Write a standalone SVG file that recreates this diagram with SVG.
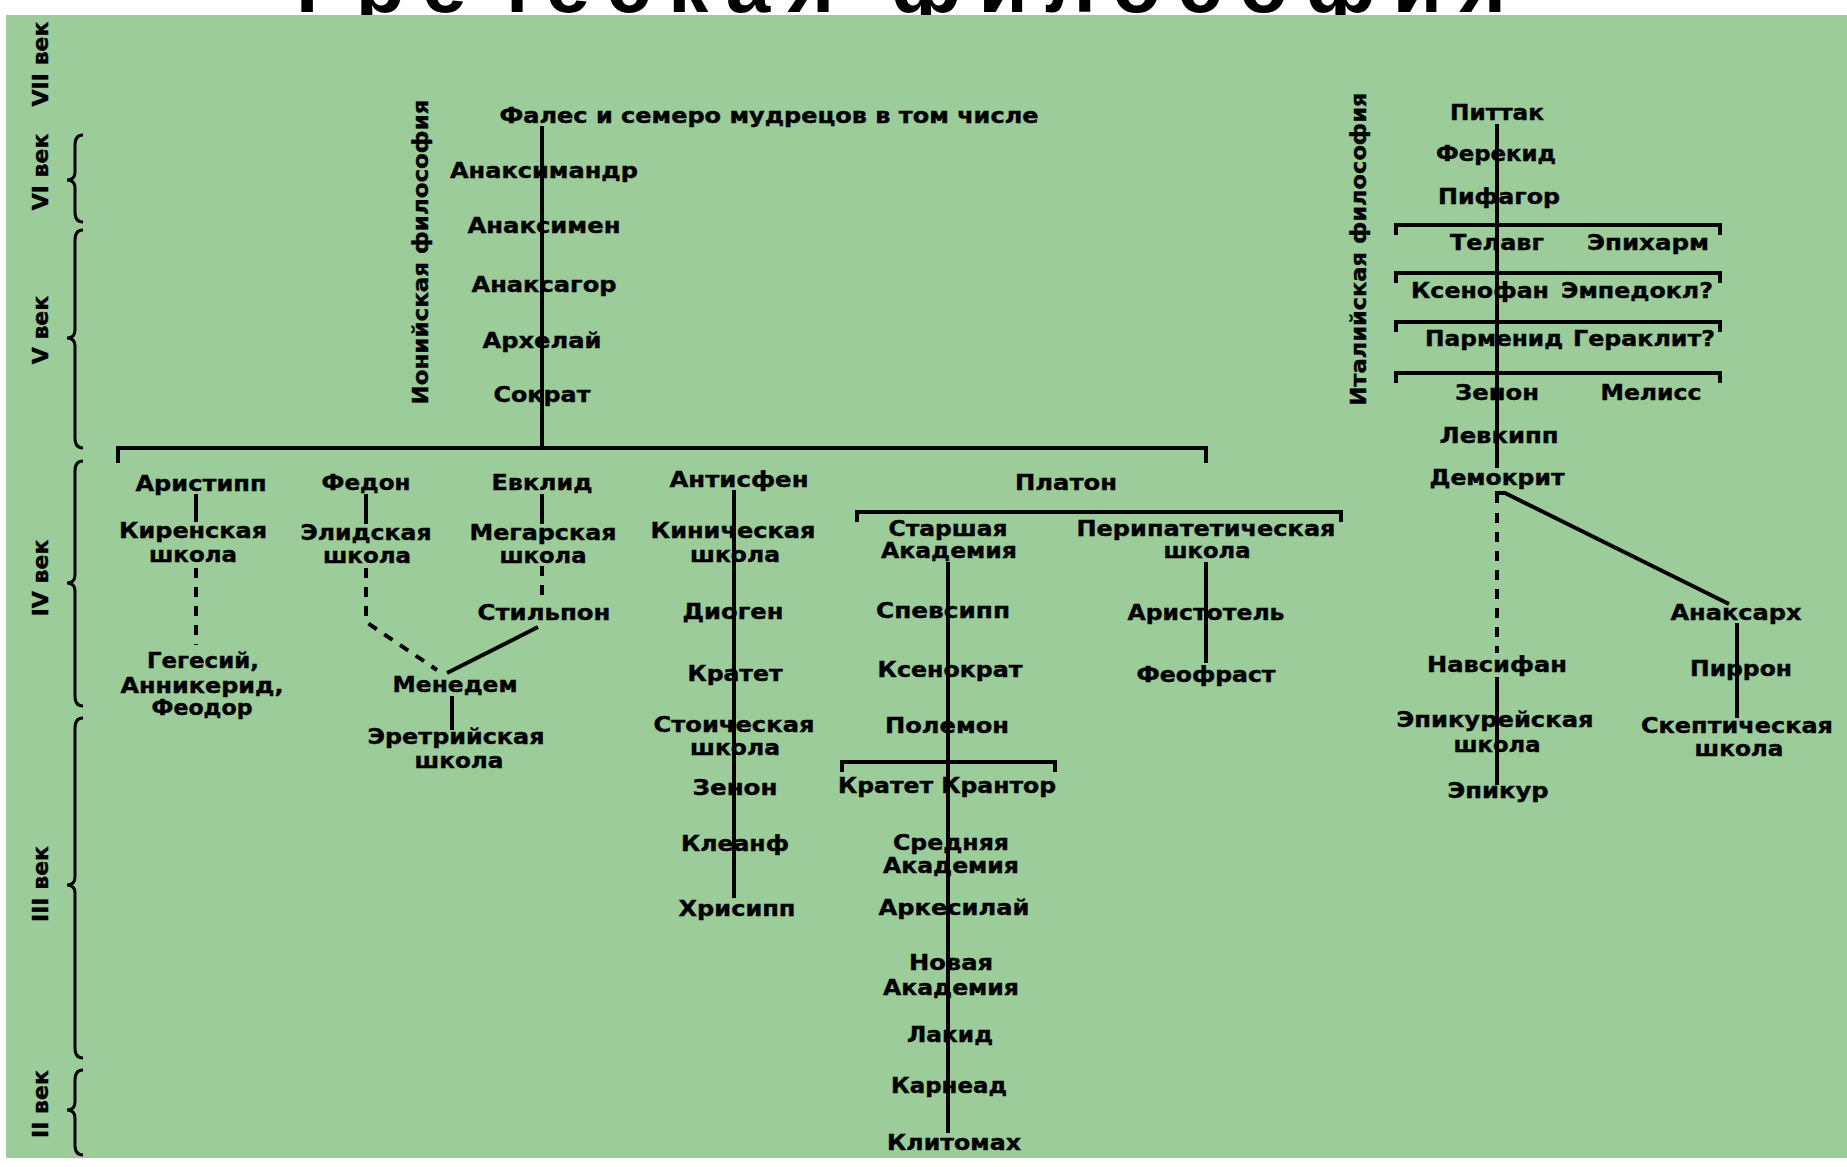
<svg xmlns="http://www.w3.org/2000/svg" width="1847" height="1167" viewBox="0 0 1847 1167">
<style>
text{font-family:"DejaVu Sans",Verdana,sans-serif;font-weight:bold;font-size:22px;fill:#000;stroke:#000;stroke-width:0.4;text-anchor:middle}
.nar{font-family:"DejaVu Sans Condensed","DejaVu Sans",sans-serif;font-stretch:condensed}
.cen{font-size:22px}
.title{font-family:"Liberation Sans",Arial,sans-serif;font-size:80px;stroke:none}
.ln{stroke:#000;stroke-width:4;fill:none}
.dash{stroke-dasharray:10 9}
.br{stroke:#000;stroke-width:3;fill:none}
</style>
<rect x="0" y="0" width="1847" height="1167" fill="#ffffff"/>
<text class="title" x="901" y="12" textLength="1210" lengthAdjust="spacing">Греческая философия</text>
<rect x="6" y="15" width="1841" height="1143" fill="#9ccc9a"/>

<g id="centuries">
<path class="br" d="M83 135 Q75 135 75 145 L75 172 Q75 180 67 180 Q75 180 75 188 L75 212 Q75 222 83 222"/>
<path class="br" d="M83 230 Q75 230 75 240 L75 330 Q75 338 67 338 Q75 338 75 346 L75 438 Q75 448 83 448"/>
<path class="br" d="M83 461 Q75 461 75 471 L75 575 Q75 583 67 583 Q75 583 75 591 L75 696 Q75 706 83 706"/>
<path class="br" d="M83 718 Q75 718 75 728 L75 877 Q75 885 67 885 Q75 885 75 893 L75 1048 Q75 1058 83 1058"/>
<path class="br" d="M83 1070 Q75 1070 75 1080 L75 1102 Q75 1110 67 1110 Q75 1110 75 1118 L75 1145 Q75 1155 83 1155"/>
<text class="cen" transform="translate(48,64) rotate(-90)">VII век</text>
<text class="cen" transform="translate(48,172) rotate(-90)">VI век</text>
<text class="cen" transform="translate(48,330) rotate(-90)">V век</text>
<text class="cen" transform="translate(48,578) rotate(-90)">IV век</text>
<text class="cen" transform="translate(48,884) rotate(-90)">III век</text>
<text class="cen" transform="translate(48,1104) rotate(-90)">II век</text>
</g>

<g id="connectors">
<path class="ln" d="M542 126 V448"/>
<path class="ln" d="M118 463 V448 H1206 V463"/>
<path class="ln" d="M196 494 V522"/>
<path class="ln dash" d="M196 568 V645"/>
<path class="ln" d="M366 494 V524"/>
<path class="ln dash" d="M366 568 V622 L437 670"/>
<path class="ln" d="M542 494 V524"/>
<path class="ln dash" d="M542 566 V602"/>
<path class="ln" d="M538 627 L447 673"/>
<path class="ln" d="M452 696 V730"/>
<path class="ln" d="M734 490 V898"/>
<path class="ln" d="M857 522 V512 H1341 V522"/>
<path class="ln" d="M948 562 V1133"/>
<path class="ln" d="M842 772 V762 H1055 V772"/>
<path class="ln" d="M1206 562 V663"/>
<path class="ln" d="M1497 124 V468"/>
<path class="ln" d="M1396 235 V225 H1720 V235"/>
<path class="ln" d="M1396 283 V273 H1720 V283"/>
<path class="ln" d="M1396 332 V322 H1720 V332"/>
<path class="ln" d="M1396 383 V373 H1720 V383"/>
<path class="ln" d="M1497 503 V493 H1505 L1729 604"/>
<path class="ln dash" d="M1497 513 V653"/>
<path class="ln" d="M1497 677 V785"/>
<path class="ln" d="M1737 623 V718"/>
</g>

<g id="group-labels">
<text transform="translate(428,252) rotate(-90)" textLength="305" lengthAdjust="spacingAndGlyphs">Ионийская философия</text>
<text transform="translate(1366,249) rotate(-90)" textLength="313" lengthAdjust="spacingAndGlyphs">Италийская философия</text>
</g>

<g id="n-thales"><text class="nar" x="769" y="123" textLength="539" lengthAdjust="spacingAndGlyphs">Фалес и семеро мудрецов в том числе</text></g>
<g id="n-anaximander"><text x="544" y="178" textLength="188" lengthAdjust="spacingAndGlyphs">Анаксимандр</text></g>
<g id="n-anaximenes"><text x="544" y="233" textLength="153" lengthAdjust="spacingAndGlyphs">Анаксимен</text></g>
<g id="n-anaxagoras"><text x="544" y="292" textLength="145" lengthAdjust="spacingAndGlyphs">Анаксагор</text></g>
<g id="n-archelaus"><text x="542" y="348" textLength="119" lengthAdjust="spacingAndGlyphs">Архелай</text></g>
<g id="n-socrates"><text x="542" y="402" textLength="97" lengthAdjust="spacingAndGlyphs">Сократ</text></g>

<g id="n-aristippus"><text x="201" y="491" textLength="131" lengthAdjust="spacingAndGlyphs">Аристипп</text></g>
<g id="n-cyrenaic"><text x="193" y="538" textLength="148" lengthAdjust="spacingAndGlyphs">Киренская</text><text x="193" y="562" textLength="88" lengthAdjust="spacingAndGlyphs">школа</text></g>
<g id="n-hegesias"><text x="203" y="668" textLength="112" lengthAdjust="spacingAndGlyphs">Гегесий,</text><text x="202" y="693" textLength="163" lengthAdjust="spacingAndGlyphs">Анникерид,</text><text x="202" y="715" textLength="101" lengthAdjust="spacingAndGlyphs">Феодор</text></g>
<g id="n-phaedo"><text x="366" y="490" textLength="89" lengthAdjust="spacingAndGlyphs">Федон</text></g>
<g id="n-elian"><text x="366" y="540" textLength="131" lengthAdjust="spacingAndGlyphs">Элидская</text><text x="367" y="563" textLength="88" lengthAdjust="spacingAndGlyphs">школа</text></g>
<g id="n-euclid"><text x="542" y="490" textLength="101" lengthAdjust="spacingAndGlyphs">Евклид</text></g>
<g id="n-megarian"><text x="543" y="540" textLength="147" lengthAdjust="spacingAndGlyphs">Мегарская</text><text x="543" y="563" textLength="87" lengthAdjust="spacingAndGlyphs">школа</text></g>
<g id="n-stilpo"><text x="544" y="620" textLength="133" lengthAdjust="spacingAndGlyphs">Стильпон</text></g>
<g id="n-menedemus"><text x="455" y="692" textLength="125" lengthAdjust="spacingAndGlyphs">Менедем</text></g>
<g id="n-eretrian"><text x="456" y="744" textLength="177" lengthAdjust="spacingAndGlyphs">Эретрийская</text><text x="459" y="768" textLength="89" lengthAdjust="spacingAndGlyphs">школа</text></g>

<g id="n-antisthenes"><text x="739" y="487" textLength="139" lengthAdjust="spacingAndGlyphs">Антисфен</text></g>
<g id="n-cynic"><text x="733" y="538" textLength="165" lengthAdjust="spacingAndGlyphs">Киническая</text><text x="735" y="562" textLength="90" lengthAdjust="spacingAndGlyphs">школа</text></g>
<g id="n-diogenes"><text x="733" y="619" textLength="101" lengthAdjust="spacingAndGlyphs">Диоген</text></g>
<g id="n-crates"><text class="nar" x="735" y="681" textLength="95" lengthAdjust="spacingAndGlyphs">Кратет</text></g>
<g id="n-stoic"><text x="734" y="732" textLength="161" lengthAdjust="spacingAndGlyphs">Стоическая</text><text x="735" y="755" textLength="90" lengthAdjust="spacingAndGlyphs">школа</text></g>
<g id="n-zeno-citium"><text x="735" y="795" textLength="85" lengthAdjust="spacingAndGlyphs">Зенон</text></g>
<g id="n-cleanthes"><text x="735" y="851" textLength="108" lengthAdjust="spacingAndGlyphs">Клеанф</text></g>
<g id="n-chrysippus"><text x="737" y="916" textLength="117" lengthAdjust="spacingAndGlyphs">Хрисипп</text></g>

<g id="n-plato"><text x="1066" y="490" textLength="102" lengthAdjust="spacingAndGlyphs">Платон</text></g>
<g id="n-old-academy"><text x="948" y="536" textLength="119" lengthAdjust="spacingAndGlyphs">Старшая</text><text x="949" y="558" textLength="136" lengthAdjust="spacingAndGlyphs">Академия</text></g>
<g id="n-speusippus"><text x="943" y="618" textLength="134" lengthAdjust="spacingAndGlyphs">Спевсипп</text></g>
<g id="n-xenocrates"><text class="nar" x="950" y="677" textLength="145" lengthAdjust="spacingAndGlyphs">Ксенократ</text></g>
<g id="n-polemon"><text x="947" y="733" textLength="124" lengthAdjust="spacingAndGlyphs">Полемон</text></g>
<g id="n-crates-crantor"><text class="nar" x="947" y="793" textLength="218" lengthAdjust="spacingAndGlyphs">Кратет Крантор</text></g>
<g id="n-middle-academy"><text x="951" y="850" textLength="116" lengthAdjust="spacingAndGlyphs">Средняя</text><text x="951" y="873" textLength="136" lengthAdjust="spacingAndGlyphs">Академия</text></g>
<g id="n-arcesilaus"><text x="954" y="915" textLength="151" lengthAdjust="spacingAndGlyphs">Аркесилай</text></g>
<g id="n-new-academy"><text x="951" y="970" textLength="84" lengthAdjust="spacingAndGlyphs">Новая</text><text x="951" y="995" textLength="136" lengthAdjust="spacingAndGlyphs">Академия</text></g>
<g id="n-lacydes"><text x="950" y="1042" textLength="86" lengthAdjust="spacingAndGlyphs">Лакид</text></g>
<g id="n-carneades"><text x="949" y="1093" textLength="116" lengthAdjust="spacingAndGlyphs">Карнеад</text></g>
<g id="n-clitomachus"><text x="954" y="1150" textLength="134" lengthAdjust="spacingAndGlyphs">Клитомах</text></g>
<g id="n-peripatetic"><text x="1206" y="536" textLength="259" lengthAdjust="spacingAndGlyphs">Перипатетическая</text><text x="1207" y="558" textLength="87" lengthAdjust="spacingAndGlyphs">школа</text></g>
<g id="n-aristotle"><text x="1206" y="620" textLength="157" lengthAdjust="spacingAndGlyphs">Аристотель</text></g>
<g id="n-theophrastus"><text class="nar" x="1206" y="682" textLength="139" lengthAdjust="spacingAndGlyphs">Феофраст</text></g>

<g id="n-pittacus"><text x="1497" y="120" textLength="94" lengthAdjust="spacingAndGlyphs">Питтак</text></g>
<g id="n-pherecydes"><text x="1496" y="161" textLength="120" lengthAdjust="spacingAndGlyphs">Ферекид</text></g>
<g id="n-pythagoras"><text x="1499" y="204" textLength="122" lengthAdjust="spacingAndGlyphs">Пифагор</text></g>
<g id="n-telauges"><text x="1497" y="250" textLength="94" lengthAdjust="spacingAndGlyphs">Телавг</text></g>
<g id="n-epicharmus"><text x="1648" y="250" textLength="122" lengthAdjust="spacingAndGlyphs">Эпихарм</text></g>
<g id="n-xenophanes"><text x="1480" y="298" textLength="138" lengthAdjust="spacingAndGlyphs">Ксенофан</text></g>
<g id="n-empedocles"><text x="1637" y="298" textLength="152" lengthAdjust="spacingAndGlyphs">Эмпедокл?</text></g>
<g id="n-parmenides"><text x="1494" y="346" textLength="138" lengthAdjust="spacingAndGlyphs">Парменид</text></g>
<g id="n-heraclitus"><text x="1644" y="346" textLength="142" lengthAdjust="spacingAndGlyphs">Гераклит?</text></g>
<g id="n-zeno-elea"><text x="1497" y="400" textLength="84" lengthAdjust="spacingAndGlyphs">Зенон</text></g>
<g id="n-melissus"><text x="1651" y="400" textLength="101" lengthAdjust="spacingAndGlyphs">Мелисс</text></g>
<g id="n-leucippus"><text x="1499" y="443" textLength="119" lengthAdjust="spacingAndGlyphs">Левкипп</text></g>
<g id="n-democritus"><text x="1497" y="485" textLength="135" lengthAdjust="spacingAndGlyphs">Демокрит</text></g>
<g id="n-nausiphanes"><text x="1497" y="672" textLength="140" lengthAdjust="spacingAndGlyphs">Навсифан</text></g>
<g id="n-epicurean"><text x="1495" y="727" textLength="197" lengthAdjust="spacingAndGlyphs">Эпикурейская</text><text x="1497" y="752" textLength="87" lengthAdjust="spacingAndGlyphs">школа</text></g>
<g id="n-epicurus"><text x="1498" y="798" textLength="101" lengthAdjust="spacingAndGlyphs">Эпикур</text></g>
<g id="n-anaxarchus"><text x="1736" y="620" textLength="131" lengthAdjust="spacingAndGlyphs">Анаксарх</text></g>
<g id="n-pyrrho"><text x="1741" y="676" textLength="102" lengthAdjust="spacingAndGlyphs">Пиррон</text></g>
<g id="n-sceptic"><text x="1737" y="733" textLength="192" lengthAdjust="spacingAndGlyphs">Скептическая</text><text x="1739" y="756" textLength="89" lengthAdjust="spacingAndGlyphs">школа</text></g>
</svg>
